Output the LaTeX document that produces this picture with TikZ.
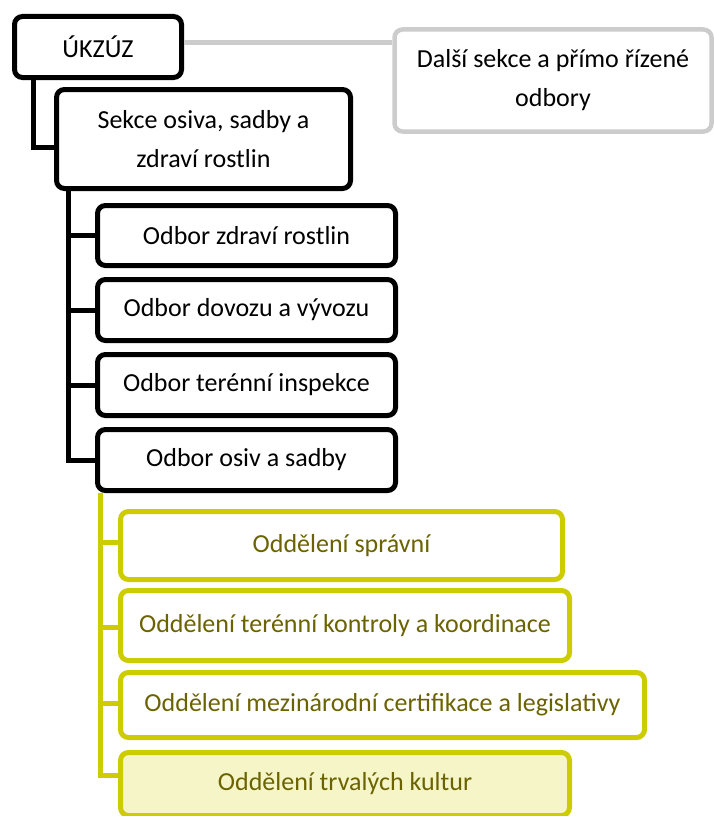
\documentclass[tikz,border=0pt]{standalone}
\usepackage{fontspec}
\setmainfont{Carlito}
\definecolor{olivebox}{HTML}{CCCC00}
\definecolor{olivetext}{HTML}{6B6300}
\definecolor{olivefill}{HTML}{F5F5C8}
\definecolor{graybox}{HTML}{CCCCCC}
\begin{document}
\begin{tikzpicture}[x=1pt,y=-1pt,
  boxbase/.style={rectangle,rounded corners=8pt,line width=5pt,align=center,
    font=\fontsize{26}{39}\selectfont,inner sep=0pt},
  blackbox/.style={boxbase,draw=black,fill=white,text=black},
  greybox/.style={boxbase,draw=graybox,fill=white,text=black,line width=4.5pt},
  yelbox/.style={boxbase,draw=olivebox,fill=white,text=olivetext},
  blackline/.style={line width=5pt,draw=black},
  yelline/.style={line width=5pt,draw=olivebox},
  greyline/.style={line width=4.5pt,draw=graybox}]
\useasboundingbox (0,0) rectangle (714,816);
\clip (0,0) rectangle (714,816);
\node[blackbox,minimum width=167pt,minimum height=61pt] (ukzuz) at (98,47) {ÚKZÚZ};
\node[greybox,minimum width=317pt,minimum height=102pt] (dalsi) at (553,80.5) {Další sekce a přímo řízené\\odbory};
\node[blackbox,minimum width=294pt,minimum height=99pt] (sekce) at (203.5,139) {Sekce osiva, sadby a\\zdraví rostlin};
\node[blackbox,minimum width=298pt,minimum height=60pt] (o1) at (246.5,235.5) {Odbor zdraví rostlin};
\node[blackbox,minimum width=298pt,minimum height=61pt] (o2) at (246.5,310) {Odbor dovozu a vývozu};
\node[blackbox,minimum width=298pt,minimum height=61pt] (o3) at (246.5,385) {Odbor terénní inspekce};
\node[blackbox,minimum width=298pt,minimum height=61pt] (o4) at (246.5,460) {Odbor osiv a sadby};
\node[yelbox,minimum width=442pt,minimum height=68pt] (y1) at (341.5,545.5) {Oddělení správní};
\node[yelbox,minimum width=449pt,minimum height=70pt] (y2) at (345,625.5) {Oddělení terénní kontroly a koordinace};
\node[yelbox,minimum width=524pt,minimum height=65pt] (y3) at (382.5,705) {Oddělení mezinárodní certifikace a legislativy};
\node[yelbox,fill=olivefill,minimum width=449pt,minimum height=63pt] (y4) at (345,784) {Oddělení trvalých kultur};
\coordinate (y4stub) at (118,775);
% connectors
\draw[greyline] (ukzuz.east |- 0,42.5) -- (dalsi.west |- 0,42.5);
\draw[blackline] (ukzuz.south -| 33,0) |- (sekce.west |- 0,147);
\draw[blackline] (sekce.south -| 68,0) |- (o4.west);
\draw[blackline] (68,235.5) -- (o1.west);
\draw[blackline] (68,310) -- (o2.west);
\draw[blackline] (68,385) -- (o3.west);
\draw[yelline] (o4.south -| 100,0) |- (y4stub);
\draw[yelline] (100,542) -- (y1.west |- 0,542);
\draw[yelline] (100,627) -- (y2.west |- 0,627);
\draw[yelline] (100,703) -- (y3.west |- 0,703);
\end{tikzpicture}
\end{document}
